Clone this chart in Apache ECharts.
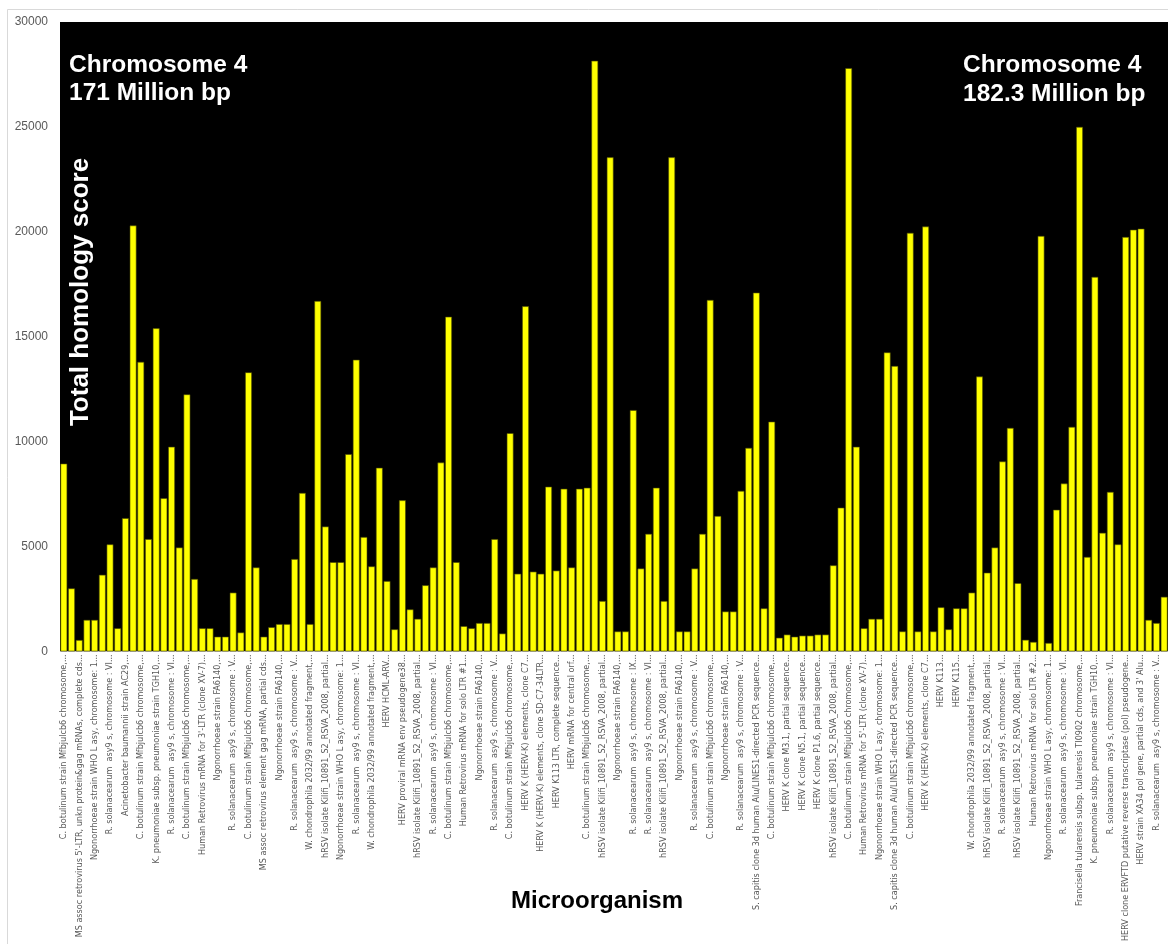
<!DOCTYPE html>
<html>
<head>
<meta charset="utf-8">
<title>Total homology score by microorganism – Chromosome 4</title>
<script src="https://cdn.jsdelivr.net/npm/echarts@6/dist/echarts.min.js"></script>
<style>
  html, body { margin: 0; padding: 0; background: #fff; }
  #chart { width: 1168px; height: 944px; }
</style>
</head>
<body>
<div id="chart"></div>
<script>
// Names printed under every other bar (bars 1, 3, 5, ...)
const labeledNames = [
  "C. botulinum strain Mfbjulcb6 chromosome,...",
  "MS assoc retrovirus 5'-LTR, unkn protein&gag mRNAs, complete cds...",
  "Ngonorrhoeae strain WHO L asy, chromosome: 1...",
  "R. solanacearum  asy9 s, chromosome : VI...",
  "Acinetobacter baumannii strain AC29,...",
  "C. botulinum strain Mfbjulcb6 chromosome,...",
  "K. pneumoniae subsp. pneumoniae strain TGH10,...",
  "R. solanacearum  asy9 s, chromosome : VI...",
  "C. botulinum strain Mfbjulcb6 chromosome,...",
  "Human Retrovirus mRNA for 3'-LTR (clone XV-7)...",
  "Ngonorrhoeae strain FA6140,...",
  "R. solanacearum  asy9 s, chromosome : V...",
  "C. botulinum strain Mfbjulcb6 chromosome,...",
  "MS assoc retrovirus element gag mRNA, partial cds...",
  "Ngonorrhoeae strain FA6140,...",
  "R. solanacearum  asy9 s, chromosome : V...",
  "W. chondrophila 2032/99 annotated fragment,...",
  "hRSV isolate Kilifi_10891_S2_RSVA_2008, partial...",
  "Ngonorrhoeae strain WHO L asy, chromosome: 1...",
  "R. solanacearum  asy9 s, chromosome : VI...",
  "W. chondrophila 2032/99 annotated fragment,...",
  "HERV HCML-ARV...",
  "HERV proviral mRNA env pseudogene38...",
  "hRSV isolate Kilifi_10891_S2_RSVA_2008, partial...",
  "R. solanacearum  asy9 s, chromosome : VI...",
  "C. botulinum strain Mfbjulcb6 chromosome,...",
  "Human Retrovirus mRNA for solo LTR #1...",
  "Ngonorrhoeae strain FA6140,...",
  "R. solanacearum  asy9 s, chromosome : V...",
  "C. botulinum strain Mfbjulcb6 chromosome,...",
  "HERV K (HERV-K) elements, clone C7...",
  "HERV K (HERV-K) elements, clone SD-C7-34LTR...",
  "HERV K113 LTR, complete sequence...",
  "HERV mRNA for central orf...",
  "C. botulinum strain Mfbjulcb6 chromosome,...",
  "hRSV isolate Kilifi_10891_S2_RSVA_2008, partial...",
  "Ngonorrhoeae strain FA6140,...",
  "R. solanacearum  asy9 s, chromosome : IX...",
  "R. solanacearum  asy9 s, chromosome : VI...",
  "hRSV isolate Kilifi_10891_S2_RSVA_2008, partial...",
  "Ngonorrhoeae strain FA6140,...",
  "R. solanacearum  asy9 s, chromosome : V...",
  "C. botulinum strain Mfbjulcb6 chromosome,...",
  "Ngonorrhoeae strain FA6140,...",
  "R. solanacearum  asy9 s, chromosome : V...",
  "S. capitis clone 3d human Alu/LINES1-directed PCR sequence...",
  "C. botulinum strain Mfbjulcb6 chromosome,...",
  "HERV K clone M3.1, partial sequence...",
  "HERV K clone N5.1, partial sequence...",
  "HERV K clone P1.6, partial sequence...",
  "hRSV isolate Kilifi_10891_S2_RSVA_2008, partial...",
  "C. botulinum strain Mfbjulcb6 chromosome,...",
  "Human Retrovirus mRNA for 5'-LTR (clone XV-7)...",
  "Ngonorrhoeae strain WHO L asy, chromosome: 1...",
  "S. capitis clone 3d human Alu/LINES1-directed PCR sequence...",
  "C. botulinum strain Mfbjulcb6 chromosome,...",
  "HERV K (HERV-K) elements, clone C7...",
  "HERV K113...",
  "HERV K115...",
  "W. chondrophila 2032/99 annotated fragment,...",
  "hRSV isolate Kilifi_10891_S2_RSVA_2008, partial...",
  "R. solanacearum  asy9 s, chromosome : VI...",
  "hRSV isolate Kilifi_10891_S2_RSVA_2008, partial...",
  "Human Retrovirus mRNA for solo LTR #2...",
  "Ngonorrhoeae strain WHO L asy, chromosome: 1...",
  "R. solanacearum  asy9 s, chromosome : VI...",
  "Francisella tularensis subsp. tularensis TI0902 chromosome,...",
  "K. pneumoniae subsp. pneumoniae strain TGH10,...",
  "R. solanacearum  asy9 s, chromosome : VI...",
  "HERV clone ERVFTD putative reverse transcriptase (pol) pseudogene...",
  "HERV strain XA34 pol gene, partial cds, and 3' Alu...",
  "R. solanacearum  asy9 s, chromosome : V..."
];

// Total homology scores, in chromosome order (bars 1-48, 49-96, 97-144)
const scoresPart1 = [
  8950, 3000, 540, 1500, 1500, 3650, 5100, 1100, 6350, 20300, 13800, 5350,
  15400, 7300, 9750, 4950, 12250, 3450, 1100, 1100, 700, 700, 2800, 900,
  13300, 4000, 700, 1150, 1300, 1300, 4400, 7550, 1300, 16700, 5950, 4250,
  4250, 9400, 13900, 5450, 4050, 8750, 3350, 1050, 7200, 2000, 1550, 3150
];
const scoresPart2 = [
  4000, 9000, 15950, 4250, 1200, 1100, 1350, 1350, 5350, 850, 10400, 3700,
  16450, 3800, 3700, 7850, 3850, 7750, 4000, 7750, 7800, 28150, 2400, 23550,
  950, 950, 11500, 3950, 5600, 7800, 2400, 23550, 950, 950, 3950, 5600,
  16750, 6450, 1900, 1900, 7650, 9700, 17100, 2050, 10950, 650, 800, 700
];
const scoresPart3 = [
  750, 750, 800, 800, 4100, 6850, 27800, 9750, 1100, 1550, 1550, 14250,
  13600, 950, 19950, 950, 20250, 950, 2100, 1050, 2050, 2050, 2800, 13100,
  3750, 4950, 9050, 10650, 3250, 550, 450, 19800, 400, 6750, 8000, 10700,
  25000, 4500, 17850, 5650, 7600, 5100, 19750, 20100, 20150, 1500, 1350, 2600
];

// Value-axis settings
const yMin = 0;
const yMax = 30000;
const yStep = 5000;

const scores = scoresPart1.concat(scoresPart2, scoresPart3);
// Only every other bar carries a printed name
const categories = scores.map((_, i) => (i % 2 === 0 ? labeledNames[i / 2] : ''));

const chart = echarts.init(document.getElementById('chart'), null, { renderer: 'canvas' });

const option = {
  animation: false,
  backgroundColor: '#ffffff',
  grid: {
    left: 60,
    right: 0,
    top: 22,
    bottom: 285,
    show: true,
    backgroundColor: '#000000',
    borderWidth: 0
  },
  xAxis: {
    type: 'category',
    data: categories,
    axisLine: { show: false },
    axisTick: { show: false },
    axisLabel: {
      interval: 1,
      rotate: 90,
      margin: 3,
      fontSize: 9,
      color: '#595959',
      fontFamily: '"Liberation Sans Narrow", "DejaVu Sans Condensed", "Liberation Sans", sans-serif'
    }
  },
  yAxis: {
    type: 'value',
    min: yMin,
    max: yMax,
    interval: yStep,
    axisLine: { show: false },
    axisTick: { show: false },
    splitLine: { show: false },
    axisLabel: {
      margin: 12,
      fontSize: 12,
      color: '#595959',
      fontFamily: '"Liberation Sans", Arial, sans-serif',
      formatter: (v) => String(v)
    }
  },
  series: [{
    type: 'bar',
    data: scores,
    barCategoryGap: '12%',
    itemStyle: {
      color: '#ffff00',
      borderColor: '#4a4a00',
      borderWidth: 0.6
    }
  }],
  graphic: [
    {
      type: 'rect',
      silent: true,
      z: -10,
      shape: { x: 7.5, y: 9.5, width: 1300, height: 1100 },
      style: { fill: 'none', stroke: '#d9d9d9', lineWidth: 1 }
    },
    {
      type: 'text',
      x: 69,
      y: 51,
      z: 100,
      style: {
        text: 'Chromosome 4\n171 Million bp',
        fill: '#ffffff',
        font: 'bold 24.5px "Liberation Sans", Arial, sans-serif',
        lineHeight: 28,
        align: 'left',
        verticalAlign: 'top'
      }
    },
    {
      type: 'text',
      x: 963,
      y: 51,
      z: 100,
      style: {
        text: 'Chromosome 4\n182.3 Million bp',
        fill: '#ffffff',
        font: 'bold 24.5px "Liberation Sans", Arial, sans-serif',
        lineHeight: 29,
        align: 'left',
        verticalAlign: 'top'
      }
    },
    {
      type: 'text',
      x: 81,
      y: 292,
      rotation: Math.PI / 2,
      z: 100,
      style: {
        text: 'Total homology score',
        fill: '#ffffff',
        font: 'bold 26px "Liberation Sans", Arial, sans-serif',
        align: 'center',
        verticalAlign: 'middle'
      }
    },
    {
      type: 'text',
      x: 597,
      y: 901,
      z: 100,
      style: {
        text: 'Microorganism',
        fill: '#000000',
        font: 'bold 24px "Liberation Sans", Arial, sans-serif',
        align: 'center',
        verticalAlign: 'middle'
      }
    }
  ]
};

chart.setOption(option);
</script>
</body>
</html>
